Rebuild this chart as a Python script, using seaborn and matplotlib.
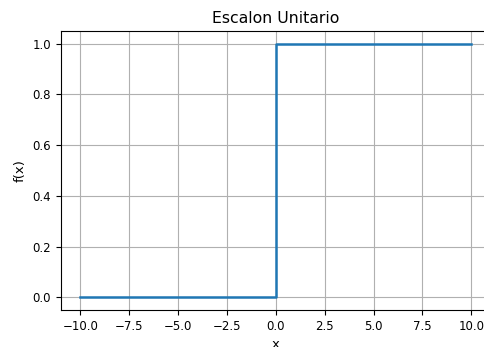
import matplotlib
matplotlib.use("Agg")
import matplotlib.pyplot as plt
import seaborn as sns
import pandas as pd

x_vals = [-10.0, 0.0, 0.0, 10.0]
y_vals = [0.0, 0.0, 1.0, 1.0]
x_ticks = [-10.0, -7.5, -5.0, -2.5, 0.0, 2.5, 5.0, 7.5, 10.0]
y_ticks = [0.0, 0.2, 0.4, 0.6, 0.8, 1.0]

df = pd.DataFrame({"x": x_vals, "y": y_vals})

fig = plt.figure(figsize=(4.85, 3.47), dpi=100)
ax = fig.add_axes([0.1252, 0.1066, 0.887, 0.804])
sns.lineplot(data=df, x="x", y="y", sort=False, estimator=None, ax=ax,
             color="#1f77b4", linewidth=1.8)
ax.set_xticks(x_ticks)
ax.set_yticks(y_ticks)
ax.set_xlim(-11, 11)
ax.set_ylim(-0.05, 1.05)
ax.grid(True, color="#b0b0b0", linewidth=0.8)
ax.set_axisbelow(True)
ax.set_title("Escalon Unitario", fontsize=11.3)
ax.set_xlabel("x", fontsize=9.5)
ax.set_ylabel("f(x)", fontsize=9.5)
ax.tick_params(labelsize=8.5)
fig.savefig("out.png", dpi=100)
